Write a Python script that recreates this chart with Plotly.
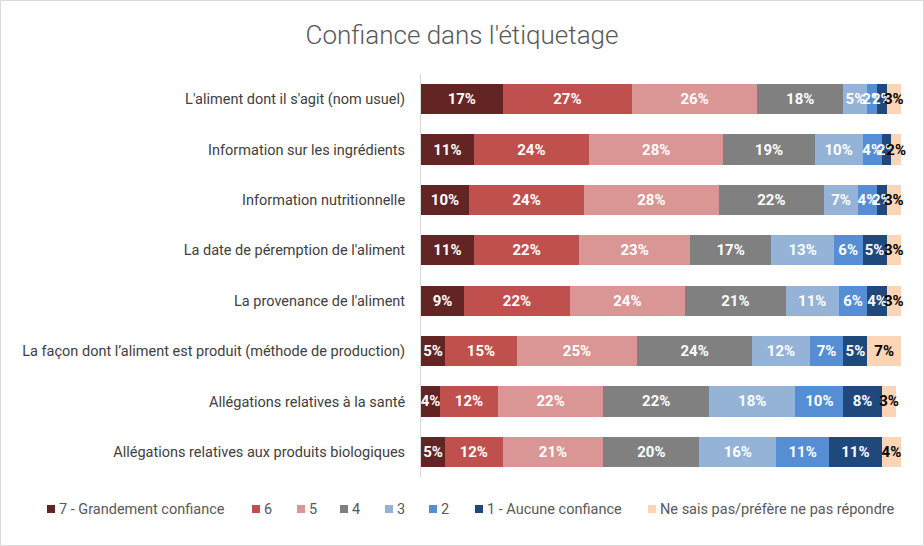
import plotly.graph_objects as go

categories = [
    "L'aliment dont il s'agit (nom usuel)",
    "Information sur les ingrédients",
    "Information nutritionnelle",
    "La date de péremption de l'aliment",
    "La provenance de l'aliment",
    "La façon dont l’aliment est produit (méthode de production)",
    "Allégations relatives à la santé",
    "Allégations relatives aux produits biologiques",
]

series_names = [
    "7 - Grandement confiance", "6", "5", "4", "3", "2",
    "1 - Aucune confiance", "Ne sais pas/préfère ne pas répondre",
]

v7 = [17, 11, 10, 11, 9, 5, 4, 5]
v6 = [27, 24, 24, 22, 22, 15, 12, 12]
v5 = [26, 28, 28, 23, 24, 25, 22, 21]
v4 = [18, 19, 22, 17, 21, 24, 22, 20]
v3 = [5, 10, 7, 13, 11, 12, 18, 16]
v2 = [2, 4, 4, 6, 6, 7, 10, 11]
v1 = [2, 2, 2, 5, 4, 5, 8, 11]
vns = [3, 2, 3, 3, 3, 7, 3, 4]

values = [v7, v6, v5, v4, v3, v2, v1, vns]
colors = ["#632523", "#C0504D", "#D99694", "#808080", "#95B3D7", "#558ED5", "#1F497D", "#FBD5B5"]
text_colors = ["white"] * 7 + ["black"]

FONT = "Roboto, Arial"

W, H = 924, 546
L, R, T, B = 421, 23, 74, 69
pw, ph = W - L - R, H - T - B


def px_x(p):
    return (p - L) / pw


def px_y(p):
    return (H - B - p) / ph


fig = go.Figure()
for name, vals, col, tc in zip(series_names, values, colors, text_colors):
    fig.add_trace(go.Bar(
        y=categories, x=vals, name=name, orientation="h",
        marker=dict(color=col, line=dict(width=0)),
        text=[f"{v}%" for v in vals], textposition="inside", textangle=0,
        insidetextanchor="middle", constraintext="none",
        textfont=dict(color=tc, size=15, family=FONT, weight="bold"),
        cliponaxis=False, hoverinfo="skip", showlegend=False,
    ))

# custom legend (positions only; names/colours come from the series lists)
marker_x = [47, 252, 297, 340, 385, 429, 475, 648]
legend_y = 509
shapes = []
annotations = []
for name, col, mx in zip(series_names, colors, marker_x):
    shapes.append(dict(type="rect", xref="paper", yref="paper",
                       x0=px_x(mx), x1=px_x(mx + 8),
                       y0=px_y(legend_y + 4), y1=px_y(legend_y - 4),
                       line=dict(width=0), fillcolor=col))
    annotations.append(dict(text=name, xref="paper", yref="paper",
                            x=px_x(mx + 10), y=px_y(legend_y),
                            xanchor="left", yanchor="middle", showarrow=False,
                            font=dict(size=14.5, color="#595959", family=FONT)))

shapes.append(dict(type="rect", xref="paper", yref="paper",
                   x0=px_x(0.5), x1=px_x(W - 0.5),
                   y0=px_y(H - 0.5), y1=px_y(0.5),
                   line=dict(color="#D9D9D9", width=1), fillcolor="rgba(0,0,0,0)",
                   layer="below"))

fig.update_layout(
    barmode="stack", bargap=0.4,
    width=W, height=H,
    margin=dict(l=L, r=R, t=T, b=B, autoexpand=False),
    paper_bgcolor="white", plot_bgcolor="white",
    font=dict(family=FONT, color="#404040", size=13),
    title=dict(text="Confiance dans l'étiquetage", x=0.5, xref="container",
               xanchor="center", y=1 - 35 / H, yanchor="middle",
               font=dict(size=26, color="#595959", family=FONT, weight=300)),
    xaxis=dict(range=[0, 100], visible=False, fixedrange=True),
    yaxis=dict(autorange="reversed", showline=True, linecolor="#D9D9D9",
               ticks="", ticklabelstandoff=12, automargin=False,
               tickfont=dict(size=14.5, color="#404040", family=FONT)),
    showlegend=False,
    uniformtext=dict(mode=False),
    shapes=shapes,
    annotations=annotations,
)

fig.write_html("out.html", config={"displayModeBar": False},
               post_script="document.body.style.margin='0';document.body.style.padding='0';")
